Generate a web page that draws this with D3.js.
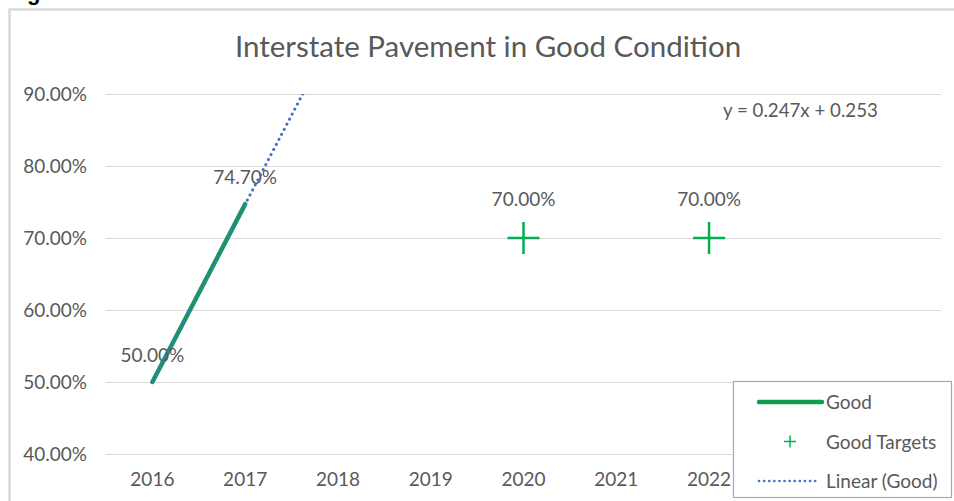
<!DOCTYPE html>
<html>
<head>
<meta charset="utf-8">
<script src="https://cdn.jsdelivr.net/npm/d3@7"></script>
<style>
  html, body { margin: 0; background: #fff; overflow: hidden; }
  svg { display: block; }
  svg text { font-family: Lato, "Open Sans", sans-serif; fill: #595959; }
</style>
</head>
<body>
<svg id="chart" width="954" height="501"></svg>
<script>
// Chart data
var years = ['2016', '2017', '2018', '2019', '2020', '2021', '2022', '2023', '2024'];
var goodValues = [0.50, 0.747];           // 2016, 2017
var goodYears = ['2016', '2017'];
var targetYears = ['2020', '2022'];
var targetValues = [0.70, 0.70];
var yTicks = [0.4, 0.5, 0.6, 0.7, 0.8, 0.9];
var trendSlope = 0.247, trendIntercept = 0.253;
var legendItems = ['Good', 'Good Targets', 'Linear (Good)'];

var svg = d3.select('#chart');

var plot = {left: 106, right: 941, top: 94, bottom: 454};
var legendPos = {x: 733, y: 381, w: 218, h: 116};

var x = d3.scaleBand().domain(years).range([plot.left, plot.right]);
var y = d3.scaleLinear().domain([0.4, 0.9]).range([plot.bottom, plot.top]);
var pct = d3.format('.2%');

var cx = function(yr) { return x(yr) + x.bandwidth() / 2; };

// outer chart border and the clipped caption glyph above it
svg.append('text')
  .attr('x', 27).attr('y', 0)
  .style('font-family', '"Liberation Sans", Arial, sans-serif')
  .style('font-weight', 'bold').style('font-size', '22px').style('fill', '#000')
  .text('g');

svg.append('rect')
  .attr('x', 9.5).attr('y', 9.5).attr('width', 1000).attr('height', 600)
  .attr('fill', '#fff').attr('stroke', '#d9d9d9').attr('stroke-width', 2.5);

// title
svg.append('text')
  .attr('x', 488).attr('y', 57)
  .attr('text-anchor', 'middle')
  .style('font-size', '29.5px')
  .text('Interstate Pavement in Good Condition');

// gridlines
svg.append('g').selectAll('line')
  .data(yTicks).enter().append('line')
  .attr('x1', plot.left).attr('x2', plot.right)
  .attr('y1', function(d) { return Math.round(y(d)) + 0.5; })
  .attr('y2', function(d) { return Math.round(y(d)) + 0.5; })
  .attr('stroke', '#d9d9d9').attr('stroke-width', 1);

// y axis labels
var yAxis = d3.axisLeft(y).tickValues(yTicks).tickFormat(pct).tickSize(0).tickPadding(19);
svg.append('g')
  .attr('transform', 'translate(' + plot.left + ',0)')
  .call(yAxis)
  .call(function(g) {
    g.select('.domain').remove();
    g.selectAll('text').style('font-size', '19px').attr('fill', null)
      .style('font-family', null);
  });

// x axis labels (the ones under the legend box are covered in the original)
var shownYears = years.filter(function(yr) { return cx(yr) < legendPos.x; });
var xAxis = d3.axisBottom(x).tickValues(shownYears).tickSize(0).tickPadding(19);
svg.append('g')
  .attr('transform', 'translate(0,' + plot.bottom + ')')
  .call(xAxis)
  .call(function(g) {
    g.select('.domain').remove();
    g.selectAll('text').style('font-size', '19px').attr('fill', null)
      .style('font-family', null);
  });

svg.append('clipPath').attr('id', 'plotClip')
  .append('rect')
  .attr('x', plot.left).attr('y', plot.top)
  .attr('width', plot.right - plot.left).attr('height', plot.bottom - plot.top);

// Good series
var goodLine = d3.line()
  .x(function(d, i) { return cx(goodYears[i]); })
  .y(function(d) { return y(d); });

svg.append('path')
  .datum(goodValues)
  .attr('d', goodLine)
  .attr('fill', 'none')
  .attr('stroke', '#0f9d50')
  .attr('stroke-width', 4.5)
  .attr('stroke-linecap', 'round');

// Good data labels
svg.append('g').selectAll('text')
  .data(goodValues).enter().append('text')
  .attr('x', function(d, i) { return cx(goodYears[i]); })
  .attr('y', function(d) { return y(d) - 20; })
  .attr('text-anchor', 'middle')
  .style('font-size', '19px')
  .text(function(d) { return pct(d); });

// linear trendline (x = 1 for 2016), drawn over the series like Excel does
var trendX = d3.scaleLinear().domain([1, 2]).range([cx('2016'), cx('2017')]);
var trendPts = [1, 3].map(function(t) { return [trendX(t), y(trendSlope * t + trendIntercept)]; });

svg.append('path')
  .attr('clip-path', 'url(#plotClip)')
  .attr('d', d3.line()(trendPts))
  .attr('fill', 'none')
  .attr('stroke', '#4472c4')
  .attr('stroke-width', 3)
  .attr('stroke-linecap', 'round')
  .attr('stroke-dasharray', '0.1 5.6');

// Good Targets markers
var targets = svg.append('g').selectAll('g')
  .data(targetValues).enter().append('g')
  .attr('transform', function(d, i) {
    return 'translate(' + cx(targetYears[i]) + ',' + y(d) + ')';
  });

targets.append('path')
  .attr('d', 'M-16,0H16M0,-16V16')
  .attr('stroke', '#00b050').attr('stroke-width', 2.5).attr('fill', 'none');

targets.append('text')
  .attr('y', -32)
  .attr('text-anchor', 'middle')
  .style('font-size', '19px')
  .text(function(d) { return pct(d); });

// trendline equation
svg.append('text')
  .attr('x', 723).attr('y', 117)
  .style('font-size', '18.7px')
  .text('y = ' + trendSlope + 'x + ' + trendIntercept);

// legend
var legend = svg.append('g').attr('transform', 'translate(' + legendPos.x + ',' + legendPos.y + ')');
legend.append('rect')
  .attr('x', 0.5).attr('y', 0.5).attr('width', legendPos.w).attr('height', legendPos.h)
  .attr('fill', '#fff').attr('stroke', '#8faadc').attr('stroke-width', 1.2);

var rows = legend.selectAll('g.item')
  .data(legendItems).enter().append('g')
  .attr('class', 'item')
  .attr('transform', function(d, i) { return 'translate(0,' + (21 + i * 39.5) + ')'; });

rows.append('text')
  .attr('x', 93).attr('y', 7)
  .style('font-size', '19px')
  .text(function(d) { return d; });

rows.filter(function(d, i) { return i === 0; })
  .append('line')
  .attr('x1', 26).attr('x2', 89)
  .attr('stroke', '#0f9d50').attr('stroke-width', 4.5).attr('stroke-linecap', 'round');

rows.filter(function(d, i) { return i === 1; })
  .append('path')
  .attr('d', 'M51,0H63M57,-6V6')
  .attr('stroke', '#00b050').attr('stroke-width', 1.5);

rows.filter(function(d, i) { return i === 2; })
  .append('line')
  .attr('x1', 26).attr('x2', 85)
  .attr('stroke', '#4472c4').attr('stroke-width', 2.6)
  .attr('stroke-linecap', 'round').attr('stroke-dasharray', '0.1 5');
</script>
</body>
</html>
